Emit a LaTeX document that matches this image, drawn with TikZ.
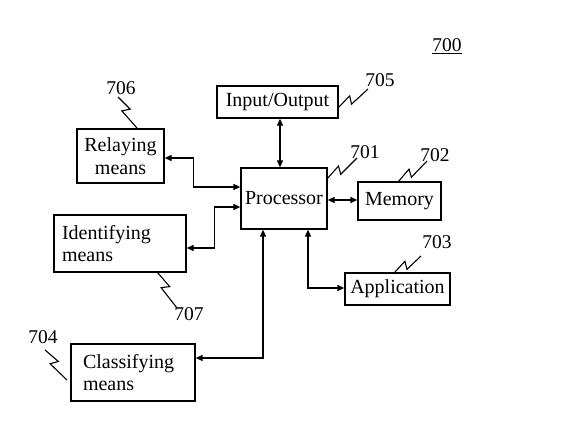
\documentclass[tikz,border=0pt]{standalone}
\usepackage{fontspec}
\setmainfont{Liberation Serif}
\usetikzlibrary{arrows.meta,calc}
\newcommand\zigref[2]{\draw[zigl] #1 -- ($#1!0.46!#2!4pt!90:#2$) -- ($#1!0.38!#2!4pt!-90:#2$) -- #2;}
\begin{document}
\begin{tikzpicture}[x=1pt,y=-1pt,
  box/.style={draw, line width=1.3pt, inner sep=0pt, font=\fontsize{20}{22.5}\selectfont},
  conn/.style={line width=1.3pt, {Triangle[length=7pt,width=6pt]}-{Triangle[length=7pt,width=6pt]}},
  num/.style={font=\fontsize{19.5}{22}\selectfont, inner sep=0pt},
  zigl/.style={line width=1.1pt}]
\useasboundingbox[fill=white] (0,0) rectangle (565,431);
% boxes
\node[box, minimum width=121pt, minimum height=32pt] (io) at (277.5,102) {Input/Output};
\node[box, minimum width=86pt, minimum height=61pt] (proc) at (284,198.5) {Processor};
\node[box, minimum width=83pt, minimum height=38pt] (mem) at (399.5,201) {Memory};
\node[box, minimum width=105pt, minimum height=32pt] (app) at (397.5,289) {Application};
\node[box, minimum width=87pt, minimum height=54pt, align=center] (rel) at (120.5,156) {Relaying\\means};
\node[box, minimum width=132pt, minimum height=57pt, text width=116pt, align=left] (idf) at (120,243.5) {Identifying\\means};
\node[box, minimum width=124pt, minimum height=57pt, text width=100pt, align=left] (cls) at (133,372.5) {Classifying\\means};
% connectors
\draw[conn] ([xshift=2.5pt]io.south) -- ([xshift=2.5pt]io.south |- proc.north);
\draw[conn] ([yshift=-2pt]rel.east) -- ++(29,0) |- ([yshift=11.5pt]proc.west);
\draw[conn] ([yshift=-4.5pt]idf.east) -- ++(28,0) |- ([yshift=-8.5pt]proc.west);
\draw[conn] ([yshift=14.5pt]cls.east) -| ([xshift=-21pt]proc.south);
\draw[conn] ([xshift=24pt]proc.south) |- ([yshift=1pt]app.west);
\draw[conn] ([yshift=-1.5pt]proc.east) -- ([yshift=1pt]mem.west);
% reference numerals
\node[num] (n700) at (447,46) {\underline{700}};
\node[num] (n705) at (380,80) {705};
\node[num] (n706) at (121,88) {706};
\node[num] (n701) at (365,152) {701};
\node[num] (n702) at (435,155) {702};
\node[num] (n703) at (437,242) {703};
\node[num] (n707) at (189,314) {707};
\node[num] (n704) at (43,337) {704};
% lead lines
\zigref{(338,108)}{(368,89)}
\zigref{(118,97)}{(137,128)}
\zigref{(327,179)}{(357,158)}
\zigref{(398,182)}{(427,161)}
\zigref{(395,272)}{(421,256)}
\zigref{(157,272)}{(177,308)}
\zigref{(45,350)}{(67,380)}
\end{tikzpicture}
\end{document}
